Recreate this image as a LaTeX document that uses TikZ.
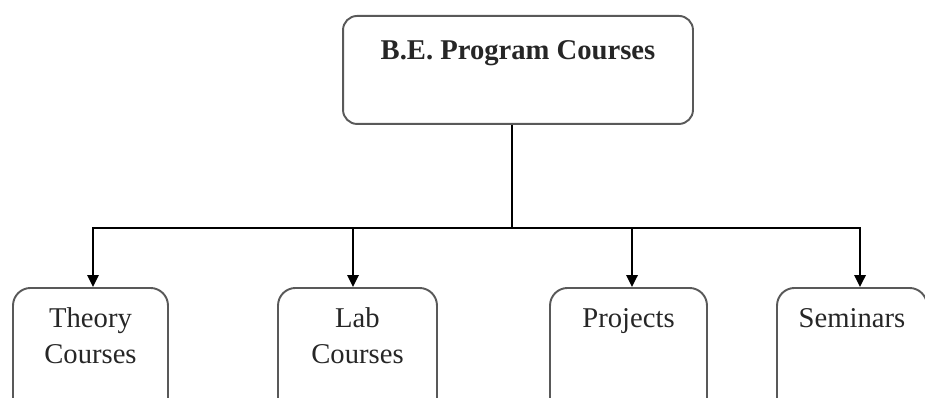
\documentclass[tikz,border=0pt]{standalone}
\usepackage{fontspec}
\setmainfont{Liberation Serif}
\usetikzlibrary{positioning}
\usetikzlibrary{arrows.meta}

\tikzset{
	course/.style={draw=black!65, line width=1.1pt, rounded corners=10pt, inner sep=0pt, align=center,
		text=black!85, font=\fontsize{16.3}{20.5}\selectfont, text height=0.8cm, text depth=2cm, anchor=north},
	twoline/.style={text height=1.52cm, text depth=1.3cm},
	link/.style={line width=1pt},
	arr/.style={link, -{Triangle[length=2.4mm, width=2.3mm]}}
}

\begin{document}
\begin{tikzpicture}[x=0.02cm, y=-0.02cm]
	% frame of the picture
	\useasboundingbox (0,0) rectangle (925,398);
	\clip (0,0) rectangle (925,398);

	% main box
	\node[course, font=\fontsize{16.3}{20.5}\selectfont\bfseries, minimum width=7cm,
		rounded corners=8pt, text height=0.88cm, text depth=1.28cm] (prog) at (518,15) {B.E. Program Courses};

	% course boxes
	\node[course, twoline, minimum width=3.1cm] (theory) at (90.5,287) {Theory\\Courses};
	\node[course, twoline, minimum width=3.18cm] (lab) at (357.5,287) {Lab\\Courses};
	\node[course, minimum width=3.14cm] (proj) at (628.5,287) {Projects};
	\node[course, minimum width=3cm] (sem) at (852,287) {Seminars};

	% branch point
	\coordinate (bus) at (512,228);

	\draw[link] (prog.south -| bus) -- (bus);
	\draw[arr] (bus) -| ([xshift=0.05cm]theory.north);
	\draw[arr] (bus) -| ([xshift=-0.09cm]lab.north);
	\draw[arr] (bus) -| ([xshift=0.07cm]proj.north);
	\draw[arr] (bus) -| ([xshift=0.16cm]sem.north);
\end{tikzpicture}
\end{document}
